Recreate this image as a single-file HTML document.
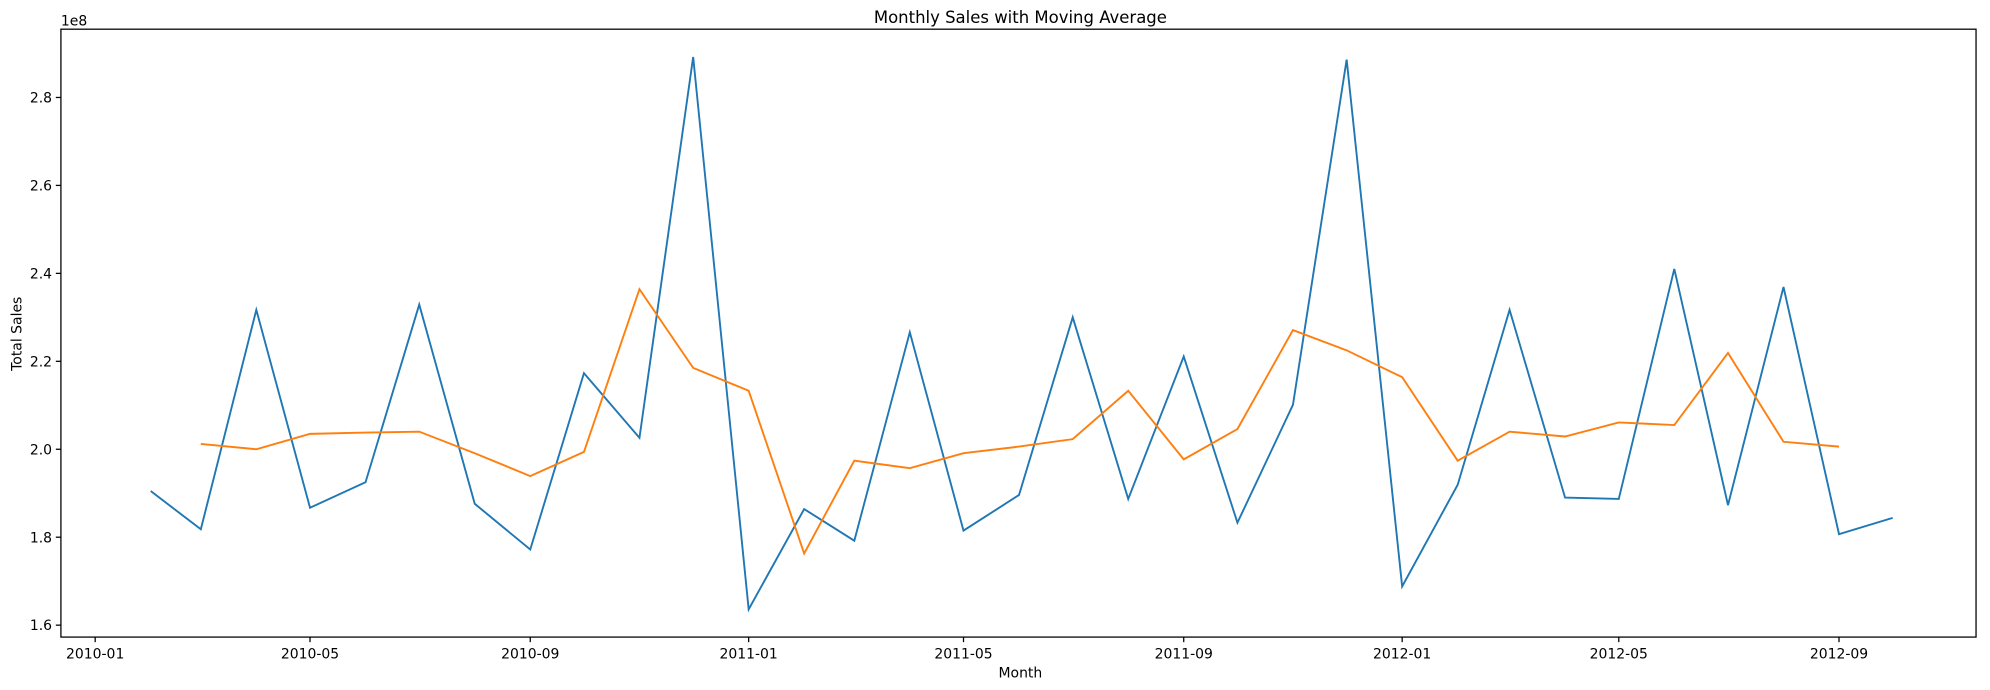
<!DOCTYPE html>
<html><head><meta charset="utf-8"><style>
body{margin:0;background:#fff;font-family:"Liberation Sans","DejaVu Sans",sans-serif;}
svg{display:block;}
svg text{font-family:"DejaVu Sans","Liberation Sans",sans-serif;fill:#000;}
</style></head><body>
<svg id="chart" width="1990" height="690" viewBox="0 0 1568 543.7" preserveAspectRatio="none" xmlns="http://www.w3.org/2000/svg">
<rect width="1568" height="544" fill="#fff"/>
<text x="804" y="18" text-anchor="middle" font-size="13">Monthly Sales with Moving Average</text>
<text x="48" y="20" font-size="11">1e8</text>
<text x="804" y="534" text-anchor="middle" font-size="11">Month</text>
<text transform="translate(17,263) rotate(-90)" text-anchor="middle" font-size="11">Total Sales</text>
<g id="ticks"></g>
<g id="lines"></g>
<rect x="48" y="23" width="1509" height="479" fill="none" stroke="#000" stroke-width="1"/>
</svg>
<script>
const months = ["2010-02","2010-03","2010-04","2010-05","2010-06","2010-07","2010-08","2010-09","2010-10","2010-11","2010-12","2011-01","2011-02","2011-03","2011-04","2011-05","2011-06","2011-07","2011-08","2011-09","2011-10","2011-11","2011-12","2012-01","2012-02","2012-03","2012-04","2012-05","2012-06","2012-07","2012-08","2012-09","2012-10"];
const sales = [1.905,1.818,2.317,1.867,1.925,2.329,1.876,1.772,2.173,2.026,2.892,1.636,1.864,1.792,2.266,1.815,1.896,2.300,1.887,2.211,1.833,2.101,2.886,1.688,1.919,2.317,1.890,1.887,2.410,1.873,2.369,1.807,1.844];
const maMonths = months.slice(1,32);
const movingAvg = [2.012,2.000,2.035,2.038,2.040,1.991,1.939,1.994,2.364,2.185,2.133,1.763,1.974,1.957,1.991,2.006,2.023,2.133,1.977,2.046,2.271,2.225,2.164,1.974,2.040,2.029,2.061,2.055,2.219,2.017,2.006];
const xTicks = ["2010-01","2010-05","2010-09","2011-01","2011-05","2011-09","2012-01","2012-05","2012-09"];
const yTicks = [1.6,1.8,2.0,2.2,2.4,2.6,2.8];

const NS="http://www.w3.org/2000/svg";
const t0=Date.UTC(2010,0,1);
function days(m){const [y,mo]=m.split("-").map(Number);return (Date.UTC(y,mo-1,1)-t0)/864e5;}
function X(m){return 75+days(m)*1.4107;}
function Y(v){return 354-(v-2.0)*346.5;}
const tg=document.getElementById("ticks"), lg=document.getElementById("lines");
function mk(tag,attrs,parent){const e=document.createElementNS(NS,tag);for(const k in attrs)e.setAttribute(k,attrs[k]);parent.appendChild(e);return e;}
xTicks.forEach(m=>{
  const x=X(m);
  const l=mk("line",{x1:x,x2:x,y1:502,y2:506,stroke:"#000"},tg);
  
  
  const t=mk("text",{x:x,y:519,"text-anchor":"middle","font-size":"11"},tg);
  t.textContent=m;
  
  
});
yTicks.forEach(v=>{
  const y=Y(v);
  const l=mk("line",{x1:44,x2:48,y1:y,y2:y,stroke:"#000"},tg);
  
  
  const t=mk("text",{x:41,y:y+4,"text-anchor":"end","font-size":"11"},tg);
  t.textContent=v.toFixed(1);
  
  
});
const p1=mk("polyline",{points:months.map((m,i)=>X(m)+","+Y(sales[i])).join(" "),fill:"none",stroke:"#1f77b4","stroke-width":"1.5"},lg);


const p2=mk("polyline",{points:maMonths.map((m,i)=>X(m)+","+Y(movingAvg[i])).join(" "),fill:"none",stroke:"#ff7f0e","stroke-width":"1.5"},lg);


</script>
</body></html>
